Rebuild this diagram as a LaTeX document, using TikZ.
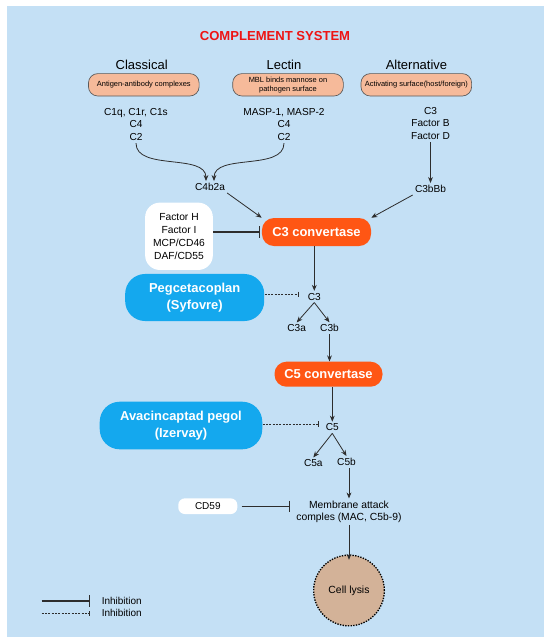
\documentclass[tikz,border=0pt]{standalone}
\usepackage{fontspec}
\setmainfont{Liberation Sans}
\usetikzlibrary{arrows.meta}

\definecolor{bgblue}{RGB}{196,224,245}
\definecolor{salmon}{RGB}{246,186,154}
\definecolor{convorange}{RGB}{255,86,20}
\definecolor{drugblue}{RGB}{20,168,238}
\definecolor{lysistan}{RGB}{211,178,152}
\definecolor{titlered}{RGB}{238,20,20}
\definecolor{linegray}{RGB}{45,45,45}

\begin{document}
\begin{tikzpicture}[x=0.75pt,y=-0.75pt,
    lbl/.style={inner sep=1.5pt, align=center, font=\fontsize{7.6}{9.6}\selectfont},
    head/.style={inner sep=1pt, font=\fontsize{9.75}{11}\selectfont},
    src/.style={draw=black!65, line width=0.5pt, fill=salmon, rounded corners=7pt,
        minimum width=83pt, minimum height=16.8pt, inner sep=1pt, align=center,
        font=\fontsize{5.6}{7}\selectfont},
    conv/.style={fill=convorange, text=white, rounded corners=9pt, inner sep=0pt,
        font=\bfseries\fontsize{9.7}{11}\selectfont},
    drug/.style={fill=drugblue, text=white, rounded corners=15pt, inner sep=0pt,
        align=center, font=\bfseries\fontsize{9.7}{12.4}\selectfont},
    reg/.style={fill=white, inner sep=0pt, align=center},
    act/.style={draw=linegray, line width=0.6pt, -{Stealth[length=4.5pt,width=3.6pt]}},
    inhib/.style={draw=linegray, line width=0.8pt, -{Bar[width=8.5pt]}},
    dinhib/.style={draw=linegray, line width=0.6pt, dash pattern=on 1.5pt off 1pt, -{Bar[width=4pt]}}
]

\fill [white]  (0,0) rectangle (550,644);
\fill [bgblue] (7,6) rectangle (544,637);
\useasboundingbox (0,0) rectangle (550,644);

% title and pathways
\node [font=\bfseries\fontsize{9.8}{11}\selectfont, text=titlered] (title) at (275,36) {COMPLEMENT SYSTEM};

\node [head] (classical)   at (141.7,65) {Classical};
\node [head] (lectin)      at (284,65)   {Lectin};
\node [head] (alternative) at (416.5,65) {Alternative};

\node [src] (classsrc) at (143.8,84.8) {Antigen-antibody complexes};
\node [src] (lectsrc)  at (288,84.8)   {MBL binds mannose on\\pathogen surface};
\node [src] (altsrc)   at (416.3,84.8) {Activating surface(host/foreign)};

\node [lbl] (classlist) at (136,124.5) {C1q, C1r, C1s\\C4\\C2};
\node [lbl] (lectlist)  at (284,124.5) {MASP-1, MASP-2\\C4\\C2};
\node [lbl] (altlist)   at (430.5,123.5) {C3\\Factor B\\Factor D};

\node [lbl] (c4b2a) at (210,187) {C4b2a};
\node [lbl] (c3bbb) at (430.5,189) {C3bBb};

\draw [act] (classlist.south) to [out=-90, in=90, looseness=0.9] ([xshift=-3pt]c4b2a.north);
\draw [act] (lectlist.south)  to [out=-90, in=90, looseness=0.9] ([xshift=3pt]c4b2a.north);
\draw [act] (altlist.south) -- (c3bbb.north);

% C3 convertase
\node [conv, minimum width=81.8pt, minimum height=21pt] (c3conv) at (316.5,232) {C3 convertase};

\node [reg, rounded corners=11pt, minimum width=50.8pt, minimum height=50.5pt,
       font=\fontsize{7.7}{9.7}\selectfont] (factors) at (179,236.3)
       {Factor H\\Factor I\\MCP/CD46\\DAF/CD55};

\draw [act] (c4b2a.south east) -- (c3conv.north west);
\draw [act] (c3bbb.south west) -- (c3conv.north east);
\draw [inhib, shorten >=1pt] (factors.east |- c3conv) -- (c3conv.west);

\node [drug, minimum width=104.3pt, minimum height=35.3pt] (pegc) at (194.7,297.5) {Pegcetacoplan\\(Syfovre)};

\node [lbl] (c3)  at (314.3,296.7) {C3};
\node [lbl] (c3a) at (296.7,328.3) {C3a};
\node [lbl] (c3b) at (329.5,328.3) {C3b};

\draw [act] (c3conv.south -| c3) -- (c3.north);
\draw [dinhib] (pegc.east |- 0,294.3) -- (299,294.3);
\draw [act] (c3.south) -- (c3a.north);
\draw [act] (c3.south) -- (c3b.north);

% C5 convertase
\node [conv, minimum width=81pt, minimum height=18.8pt] (c5conv) at (328.5,374.2) {C5 convertase};

\draw [act] (c3b.south) -- (c3b.south |- c5conv.north);

\node [drug, minimum width=121.9pt, minimum height=35.7pt] (avac) at (181,425.5) {Avacincaptad pegol\\(Izervay)};

\node [lbl] (c5)  at (332.3,427.5) {C5};
\node [lbl] (c5a) at (313.3,463.3) {C5a};
\node [lbl] (c5b) at (346.5,462)   {C5b};

\draw [act] (c5conv.south -| c5) -- (c5.north);
\draw [dinhib] (avac.east |- 0,424) -- (318.3,424);
\draw [act] (c5.south) -- (c5a.north);
\draw [act] (c5.south) -- (c5b.north);

% membrane attack complex
\node [lbl, font=\fontsize{7.75}{9.2}\selectfont] (mac) at (349,511.7) {Membrane attack\\comples (MAC, C5b-9)};
\node [reg, rounded corners=5pt, minimum width=44.3pt, minimum height=11.8pt,
       font=\fontsize{7.5}{9}\selectfont] (cd59) at (207.8,506.2) {CD59};

\draw [act] (c5b.south -| mac) -- (mac.north);
\draw [inhib] ([xshift=3pt]cd59.east) -- (290,506.2);

\node [circle, fill=lysistan, draw=black, line width=1pt, densely dotted, minimum size=53pt,
       inner sep=0pt, font=\fontsize{7.8}{9}\selectfont] (lysis) at (349,590.5) {Cell lysis};

\draw [act] (mac.south) -- ([yshift=-4pt]lysis.north);

% legend
\coordinate (leg1) at (41.7,601);
\coordinate (leg2) at (41.7,613.7);
\node [lbl, anchor=west, font=\fontsize{7.5}{9}\selectfont] (legtext1) at (99.5,600.7) {Inhibition};
\node [lbl, anchor=west, font=\fontsize{7.5}{9}\selectfont] (legtext2) at (99.5,613.3) {Inhibition};

\draw [inhib] (leg1) -- (90,601);
\draw [dinhib] (leg2) -- (90,613.7);

\end{tikzpicture}
\end{document}
